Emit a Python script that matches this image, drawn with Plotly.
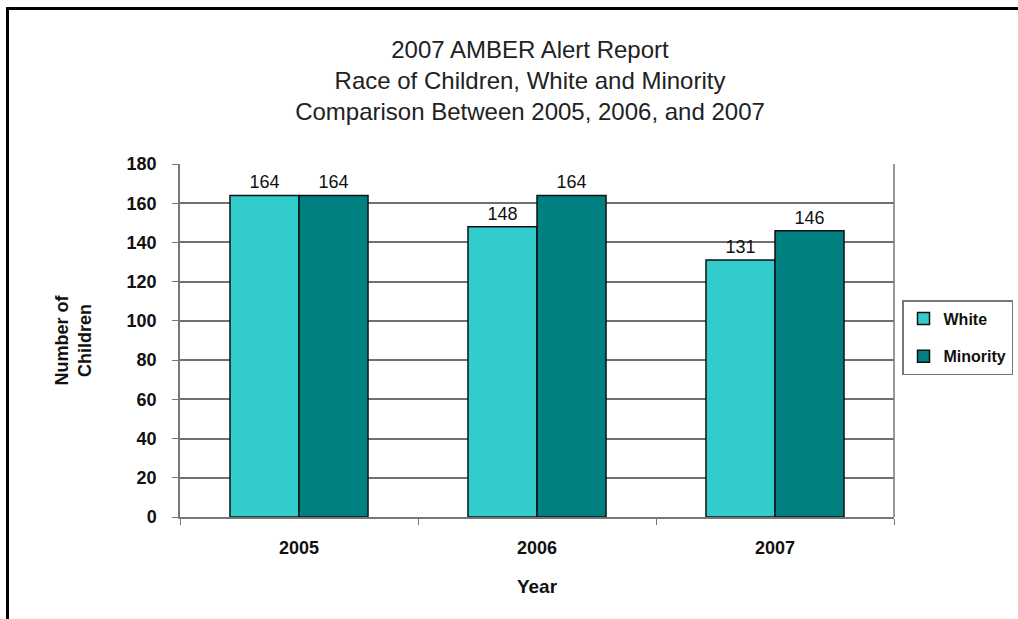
import plotly.graph_objects as go

years = ["2005", "2006", "2007"]
white = [164, 148, 131]
minority = [164, 164, 146]
series_names = ["White", "Minority"]
colors = ["#33CCCC", "#008080"]

W, H = 1018, 619
L, R, T, B = 180, 894, 164, 517

fig = go.Figure()
for name, vals, col in zip(series_names, [white, minority], colors):
    fig.add_trace(go.Bar(
        x=years, y=vals, name=name, legendgroup=name,
        marker=dict(color=col, line=dict(color="#111111", width=1.5)),
        text=[str(v) for v in vals], textposition="outside",
        textfont=dict(family="Liberation Sans, Arial", size=18, color="#111"),
        cliponaxis=False,
    ))

def px_x(x):
    return (x - L) / (R - L)

def px_y(y):
    return (B - y) / (B - T)

fig.update_layout(
    width=W, height=H,
    margin=dict(l=L, r=W - R, t=T, b=H - B, autoexpand=False),
    paper_bgcolor="white", plot_bgcolor="white",
    barmode="group", bargap=0.42, bargroupgap=0,
    font=dict(family="Liberation Sans, Arial", color="#111"),
    title=dict(
        text="2007 AMBER Alert Report<br>Race of Children, White and Minority<br>Comparison Between 2005, 2006, and 2007",
        x=530 / W, xanchor="center", xref="container",
        y=1 - 58 / H, yanchor="top", yref="container",
        font=dict(size=24, color="#222"),
    ),
    xaxis=dict(
        showline=True, linecolor="#777", linewidth=1.5,
        ticks="outside", tickson="boundaries", ticklen=6, tickcolor="#777",
        ticklabelstandoff=14,
        tickfont=dict(size=18, color="#111", weight="bold"),
        title=dict(text="Year", font=dict(size=19, color="#111", weight="bold"), standoff=22),
    ),
    yaxis=dict(
        range=[0, 180], dtick=20,
        showline=True, linecolor="#777", linewidth=1.5,
        ticks="outside", ticklen=6, tickcolor="#777",
        ticklabelstandoff=12,
        showgrid=True, gridcolor="#707070", gridwidth=1.5,
        tickfont=dict(size=18, color="#111", weight="bold"),
        title=dict(text="Number of<br>Children", font=dict(size=18, color="#111", weight="bold"), standoff=30),
        zeroline=False,
    ),
    legend=dict(
        x=px_x(902), y=px_y(300), xanchor="left", yanchor="top",
        bordercolor="#777", borderwidth=1.5, bgcolor="white",
        font=dict(size=16, color="#111", weight="bold"),
        itemwidth=30, tracegroupgap=14,
    ),
    shapes=[
        dict(type="line", xref="paper", yref="paper", x0=1, x1=1, y0=0, y1=1,
             line=dict(color="#777", width=1.5)),
        dict(type="line", xref="paper", yref="paper", x0=px_x(7.5), x1=px_x(7.5), y0=px_y(8.5), y1=px_y(640),
             line=dict(color="black", width=3)),
        dict(type="line", xref="paper", yref="paper", x0=px_x(6), x1=px_x(1030), y0=px_y(8.5), y1=px_y(8.5),
             line=dict(color="black", width=3)),
    ],
)

fig.write_html("out.html", config={"displayModeBar": False},
               post_script="document.body.style.margin='0';document.body.style.padding='0';")
